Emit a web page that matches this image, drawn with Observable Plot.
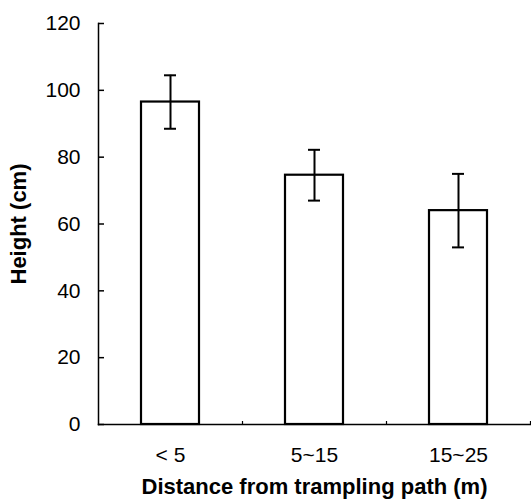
<!DOCTYPE html>
<html><head><meta charset="utf-8">
<script src="https://cdn.jsdelivr.net/npm/d3@7"></script>
<script src="https://cdn.jsdelivr.net/npm/@observablehq/plot@0.6"></script>
<style>
body{margin:0;background:#fff}
g[aria-label="x-axis label"] text, g[aria-label="y-axis label"] text {font-weight:bold;font-size:22px}
</style></head><body><div id="chart"></div>
<script>
const categories = ["< 5", "5~15", "15~25"];
const heights = [96.5, 74.6, 64];
const errors = [8, 7.6, 11];
const yTicks = [0, 20, 40, 60, 80, 100, 120];
const xTitle = "Distance from trampling path (m)";
const yTitle = "Height (cm)";
const data = categories.map((c, i) => ({c, h: heights[i], lo: heights[i] - errors[i], hi: heights[i] + errors[i]}));
const chart = Plot.plot({
  width: 531, height: 502, marginLeft: 98, marginRight: 1, marginTop: 23, marginBottom: 78,
  style: {fontFamily: "Arial, 'Liberation Sans', sans-serif", fontSize: "21px", color: "#000", background: "#fff", overflow: "visible"},
  x: {domain: categories, paddingInner: 0.6, paddingOuter: 0.3, align: 0.5},
  y: {domain: [0, 120]},
  marks: [
    Plot.frame({anchor: "left", stroke: "black", strokeWidth: 1.5}),
    Plot.frame({anchor: "bottom", stroke: "black", strokeWidth: 1.5}),
    Plot.axisX({tickSize: 0, tickPadding: 23, label: xTitle, labelArrow: "none", labelAnchor: "center", labelOffset: 69}),
    Plot.axisX({tickSize: 3, dy: -3, dx: 72, strokeWidth: 1.2, tickFormat: () => "", label: null}),
    Plot.axisY({ticks: yTicks, tickSize: 0, tickPadding: 18, label: yTitle, labelArrow: "none", labelAnchor: "center", labelOffset: 88}),
    Plot.axisY({ticks: yTicks, tickSize: 6, dx: 6, strokeWidth: 1.5, tickFormat: () => "", label: null}),
    Plot.barY(data, {x: "c", y: "h", fill: "white", stroke: "black", strokeWidth: 2.2}),
    Plot.ruleX(data, {x: "c", y1: "lo", y2: "hi", stroke: "black", strokeWidth: 2}),
    Plot.tickY(data, {x: "c", y: "lo", inset: 23, stroke: "black", strokeWidth: 2}),
    Plot.tickY(data, {x: "c", y: "hi", inset: 23, stroke: "black", strokeWidth: 2})
  ]
});
document.getElementById("chart").append(chart);
</script></body></html>
